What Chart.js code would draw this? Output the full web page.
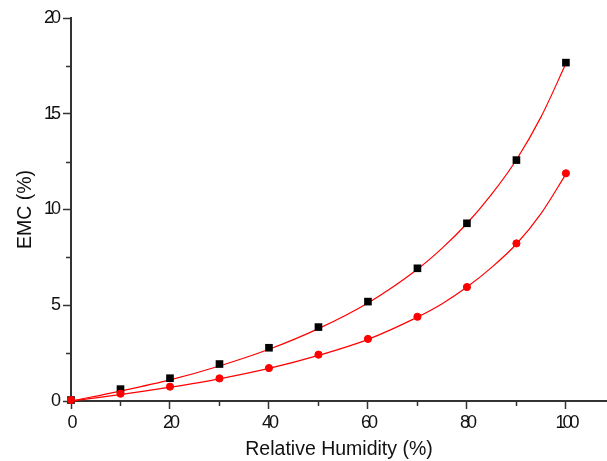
<!DOCTYPE html>
<html>
<head>
<meta charset="utf-8">
<script src="https://cdn.jsdelivr.net/npm/chart.js@4"></script>
<style>
  html, body { margin: 0; padding: 0; background: #fff; }
  #wrap { width: 607px; height: 461px; }
</style>
</head>
<body>
<div id="wrap"><canvas id="emcChart" width="607" height="461"></canvas></div>
<script>
// relative humidity (%)
const humidity = [0, 10, 20, 30, 40, 50, 60, 70, 80, 90, 100];
// measured EMC, black squares
const emcSquares = [0.05, 0.62, 1.19, 1.93, 2.78, 3.86, 5.19, 6.93, 9.28, 12.58, 17.67];
// measured EMC, red circles
const emcCircles = [0.05, 0.38, 0.75, 1.18, 1.72, 2.42, 3.24, 4.40, 5.95, 8.23, 11.89];
// fitted curves
const fitHumidity = [0, 10, 20, 30, 40, 50, 60, 70, 75, 80, 85, 90, 95, 100];
const fitSquares = [0, 0.52, 1.10, 1.83, 2.70, 3.78, 5.12, 6.88, 7.98, 9.27, 10.80, 12.60, 14.85, 17.62];
const fitCircles = [0, 0.33, 0.72, 1.16, 1.70, 2.38, 3.22, 4.38, 5.08, 5.95, 6.98, 8.20, 9.80, 11.85];

const xMajorTicks = [0, 20, 40, 60, 80, 100];
const xMinorTicks = [10, 30, 50, 70, 90];
const yMajorTicks = [0, 5, 10, 15, 20];
const yMinorTicks = [2.5, 7.5, 12.5, 17.5];

function toPoints(xs, ys) {
    return xs.map((x, i) => ({ x: x, y: ys[i] }));
}

// short minor tick marks on both axes
const minorTicksPlugin = {
    id: 'minorTicks',
    afterDatasetsDraw(chart) {
        const ctx = chart.ctx;
        const xs = chart.scales.x;
        const ys = chart.scales.y;
        ctx.save();
        ctx.strokeStyle = '#333';
        ctx.lineWidth = 1.5;
        ctx.beginPath();
        xMinorTicks.forEach(v => {
            const px = Math.round(xs.getPixelForValue(v)) + 0.5;
            ctx.moveTo(px, ys.bottom);
            ctx.lineTo(px, ys.bottom + 5);
        });
        yMinorTicks.forEach(v => {
            const py = Math.round(ys.getPixelForValue(v)) + 0.5;
            ctx.moveTo(xs.left, py);
            ctx.lineTo(xs.left - 5, py);
        });
        ctx.stroke();
        ctx.restore();
        // squeezed tick digits like the original
        ctx.letterSpacing = '-3px';
    },
    beforeDraw(chart) {
        chart.ctx.letterSpacing = '0px';
    },
    afterDraw(chart) {
        chart.ctx.letterSpacing = '0px';
    }
};

const tickFont = { family: 'Arial, "Liberation Sans", sans-serif', size: 18 };
const titleFont = { family: 'Arial, "Liberation Sans", sans-serif', size: 19.5 };

new Chart(document.getElementById('emcChart'), {
    type: 'scatter',
    data: {
        datasets: [
            {
                label: 'EMC circles',
                data: toPoints(humidity, emcCircles),
                pointStyle: 'circle',
                pointRadius: 3.6,
                backgroundColor: '#ff0000',
                borderColor: '#ff0000',
                borderWidth: 1,
                showLine: false,
                order: 1
            },
            {
                label: 'EMC squares',
                data: toPoints(humidity, emcSquares),
                pointStyle: 'rect',
                pointRadius: 5.4,
                backgroundColor: '#000',
                borderColor: '#000',
                borderWidth: 0,
                showLine: false,
                order: 2
            },
            {
                label: 'fit squares',
                data: toPoints(fitHumidity, fitSquares),
                showLine: true,
                pointRadius: 0,
                borderColor: '#ff0000',
                borderWidth: 1.2,
                cubicInterpolationMode: 'monotone',
                order: 3
            },
            {
                label: 'fit circles',
                data: toPoints(fitHumidity, fitCircles),
                showLine: true,
                pointRadius: 0,
                borderColor: '#ff0000',
                borderWidth: 1.2,
                cubicInterpolationMode: 'monotone',
                order: 4
            }
        ]
    },
    options: {
        responsive: false,
        animation: false,
        events: [],
        clip: false,
        layout: { autoPadding: false, padding: { top: 18, right: 0, bottom: 0, left: 0 } },
        plugins: {
            legend: { display: false },
            tooltip: { enabled: false }
        },
        scales: {
            x: {
                type: 'linear',
                min: 0,
                max: 108.3,
                afterBuildTicks: scale => { scale.ticks = xMajorTicks.map(v => ({ value: v })); },
                afterFit: scale => {
                    scale.height = 60;
                    scale.paddingLeft = 0;
                    scale.paddingRight = 0;
                },
                grid: { drawOnChartArea: false, drawTicks: true, tickLength: 8, tickColor: '#333', tickWidth: 1.5 },
                border: { color: '#333', width: 2 },
                ticks: {
                    z: 1,
                    padding: 3,
                    maxRotation: 0,
                    color: '#111',
                    font: tickFont
                },
                title: {
                    display: true,
                    text: 'Relative Humidity (%)',
                    color: '#111',
                    padding: { top: 0, bottom: 0 },
                    font: titleFont
                }
            },
            y: {
                type: 'linear',
                min: 0,
                max: 20,
                afterBuildTicks: scale => { scale.ticks = yMajorTicks.map(v => ({ value: v })); },
                afterFit: scale => { scale.width = 71; },
                grid: { drawOnChartArea: false, drawTicks: true, tickLength: 8, tickColor: '#333', tickWidth: 1.5 },
                border: { color: '#333', width: 2 },
                ticks: {
                    z: 1,
                    padding: 5,
                    color: '#111',
                    font: tickFont
                },
                title: {
                    display: true,
                    text: 'EMC (%)',
                    color: '#111',
                    padding: { top: 14, bottom: 0 },
                    font: titleFont
                }
            }
        }
    },
    plugins: [minorTicksPlugin]
});
</script>
</body>
</html>
